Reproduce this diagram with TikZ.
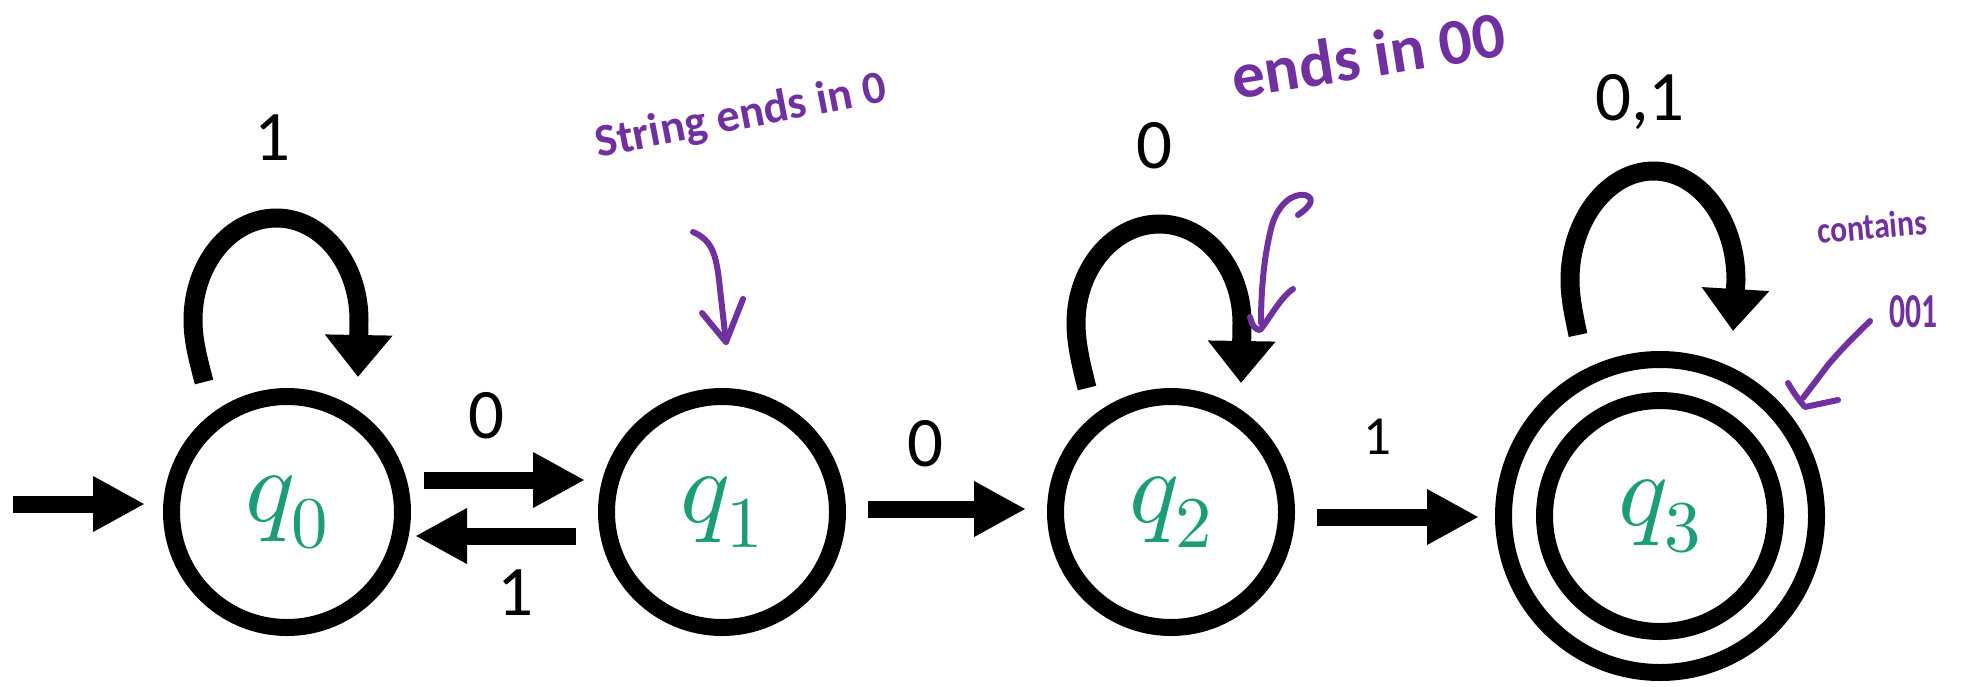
\documentclass[tikz,border=0pt]{standalone}
\usepackage{fontspec}
\setmainfont{Carlito}
\usepackage{unicode-math}
\setmathfont{Latin Modern Math}
\usepackage{graphicx}
\usetikzlibrary{arrows.meta}
\definecolor{stategreen}{RGB}{27,157,119}
\definecolor{inkpurple}{RGB}{112,48,160}
\begin{document}
\begin{tikzpicture}[x=1pt,y=-1pt,
  state/.style={circle,draw=black,line width=17pt,minimum size=231pt,inner sep=0pt,text=stategreen,font=\fontsize{104}{110}\selectfont},
  trans/.style={draw=black,line width=17pt,-{Triangle[length=52pt,width=52pt]}},
  loopedge/.style={draw=black,line width=19pt,-{Triangle[length=42pt,width=65pt]}},
  elabel/.style={font=\fontsize{71}{75}\selectfont,inner sep=0pt,text depth=0pt},
  ink/.style={draw=inkpurple,line width=6pt,line cap=round,line join=round},
  note/.style={text=inkpurple,font=\bfseries,inner sep=0pt}]
\useasboundingbox (0,0) rectangle (1986,686);

% states
\node[state] (q0) at (287,512) {$q_0$};
\node[state] (q1) at (722,512) {$q_1$};
\node[state] (q2) at (1171,512) {$q_2$};
\node[state] (q3) at (1660,516) {$q_3$};
\draw[line width=17pt] (q3.center) circle[radius=156.5pt];

% initial arrow
\coordinate (init) at (13,504);
\draw[trans] (init) -- ([shift={(-142,-8)}]q0.center);

% transitions
\draw[trans] ([shift={(137,-32)}]q0.center) -- ([shift={(-137,-32)}]q1.center);
\draw[trans] ([shift={(-146,24)}]q1.center) -- ([shift={(128,24)}]q0.center);
\draw[trans] ([shift={(146,-3)}]q1.center) -- ([shift={(-145,-3)}]q2.center);
\draw[trans] ([shift={(146,5)}]q2.center) -- ([shift={(-181,1)}]q3.center);

% self loops
\begin{scope}[shift={(q0.center)}]
\draw[loopedge] (-83,-130) .. controls (-88,-150) and (-94,-170) .. (-94,-192)
  .. controls (-94,-248) and (-57,-294) .. (-10.5,-294)
  .. controls (35,-294) and (72,-248) .. (72,-192) -- (71,-135);
\end{scope}
\begin{scope}[shift={(q2.center)}]
\draw[loopedge] (-84,-124) .. controls (-89,-144) and (-95,-167) .. (-95,-189)
  .. controls (-95,-244) and (-57,-288) .. (-11.5,-288)
  .. controls (34,-288) and (71,-244) .. (71,-189) -- (70,-129);
\end{scope}
\begin{scope}[shift={(q3.center)}]
\draw[loopedge] (-82,-181) .. controls (-86,-200) and (-90,-218) .. (-90,-236)
  .. controls (-90,-296) and (-52,-345) .. (-6.5,-345)
  .. controls (39,-345) and (76,-296) .. (76,-236) -- (73,-185);
\end{scope}

% labels
\node[elabel] (l01) at (486,415) {0};
\node[elabel] (l10) at (515,593) {1};
\node[elabel] (l12) at (925,443) {0};
\node[elabel,font=\fontsize{55}{60}\selectfont] (l23) at (1377,437) {1};
\node[elabel] (l00) at (272,138) {1};
\node[elabel] (l22) at (1154,145) {0};
\node[elabel] (l33) at (1640,97) {0,1};

% handwritten notes
\node[note] (n1) at (741,117) {\rotatebox{11}{\resizebox{295pt}{!}{String ends in 0}}};
\node[note] (n2) at (1368,55) {\rotatebox{9}{\resizebox{276pt}{!}{ends in 00}}};
\node[note] (n3) at (1872,226) {\rotatebox{5}{\resizebox{110pt}{26pt}{contains}}};
\node[note] (n4) at (1913,312) {\resizebox{48pt}{32pt}{001}};

% note arrows
\coordinate (a1s) at (693,232);
\coordinate (a1e) at (726,342);
\draw[ink] (a1s) .. controls (712,240) and (716,255) .. (719,280) -- (a1e);
\draw[ink] (702,313) -- (a1e) -- (743,299);

\coordinate (a2s) at (1298,215);
\coordinate (a2e) at (1261,323);
\draw[ink] (a2s) .. controls (1310,207) and (1316,198) .. (1305,195)
  .. controls (1292,193) and (1278,205) .. (1272,225)
  .. controls (1264,255) and (1261,290) .. (a2e);
\draw[ink] (1250,317) .. controls (1252,326) and (1256,330) .. (1260,330)
  .. controls (1270,318) and (1280,298) .. (1293,289);

\coordinate (a3s) at (1870,321);
\coordinate (a3e) at (1803,398);
\draw[ink] (a3s) .. controls (1856,335) and (1845,345) .. (1828,365) -- (a3e);
\draw[ink] (1788,383) .. controls (1792,390) and (1797,398) .. (1805,407) -- (1838,400);
\end{tikzpicture}
\end{document}
